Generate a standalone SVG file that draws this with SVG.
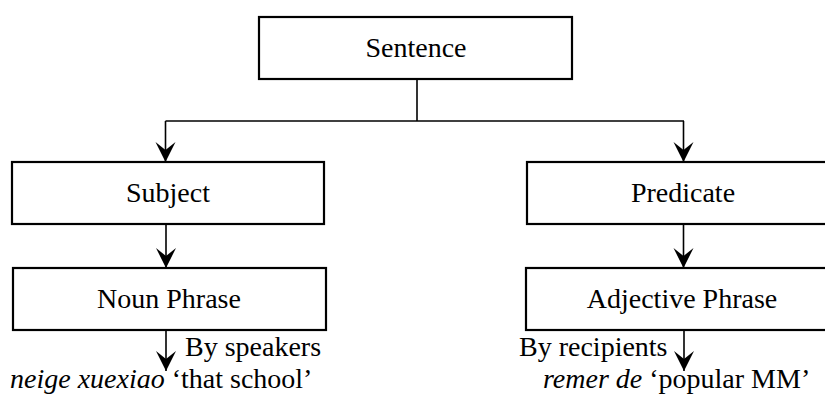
<svg xmlns="http://www.w3.org/2000/svg" width="825" height="398" viewBox="0 0 825 398">
<style>
.box{fill:#fff;stroke:#000;stroke-width:2.2}
.t{font-family:"Liberation Serif","Times New Roman",serif;font-size:28px;fill:#000}
.c{text-anchor:middle}
.i{font-style:italic}
.ln{stroke:#000;stroke-width:1.6;fill:none}
</style>
<defs>
<marker id="ah" markerUnits="userSpaceOnUse" markerWidth="22" markerHeight="22" refX="20" refY="10" orient="auto" viewBox="0 0 22 22">
<path d="M0,0 L20,10 L0,20 L8,10 Z" fill="#000"/>
</marker>
</defs>
<g id="connectors">
<line class="ln" x1="417" y1="79" x2="417" y2="121"/>
<line class="ln" x1="165.5" y1="121" x2="684" y2="121"/>
<line class="ln" x1="165.5" y1="121" x2="165.5" y2="162" marker-end="url(#ah)"/>
<line class="ln" x1="683.5" y1="121" x2="683.5" y2="162" marker-end="url(#ah)"/>
<line class="ln" x1="166" y1="224" x2="166" y2="268" marker-end="url(#ah)"/>
<line class="ln" x1="683.5" y1="224" x2="683.5" y2="268" marker-end="url(#ah)"/>
<line class="ln" x1="166" y1="330" x2="166" y2="371" marker-end="url(#ah)"/>
<line class="ln" x1="684" y1="330" x2="684" y2="371" marker-end="url(#ah)"/>
</g>
<g id="sentence">
<rect class="box" x="259" y="17" width="313" height="62"/>
<text class="t c" x="416" y="57">Sentence</text>
</g>
<g id="subject">
<rect class="box" x="12" y="162" width="312" height="62"/>
<text class="t c" x="168" y="202">Subject</text>
</g>
<g id="predicate">
<rect class="box" x="527" y="162" width="312" height="62"/>
<text class="t c" x="683" y="202">Predicate</text>
</g>
<g id="noun-phrase">
<rect class="box" x="13" y="268" width="313" height="62"/>
<text class="t c" x="169" y="308">Noun Phrase</text>
</g>
<g id="adjective-phrase">
<rect class="box" x="526" y="268" width="313" height="62"/>
<text class="t c" x="682" y="308">Adjective Phrase</text>
</g>
<g id="label-speakers">
<text class="t" x="185" y="356">By speakers</text>
<text class="t" x="10" y="388"><tspan class="i">neige xuexiao</tspan> ‘that school’</text>
</g>
<g id="label-recipients">
<text class="t" x="519" y="356">By recipients</text>
<text class="t" x="543" y="388"><tspan class="i">remer de</tspan> ‘popular MM’</text>
</g>
</svg>
